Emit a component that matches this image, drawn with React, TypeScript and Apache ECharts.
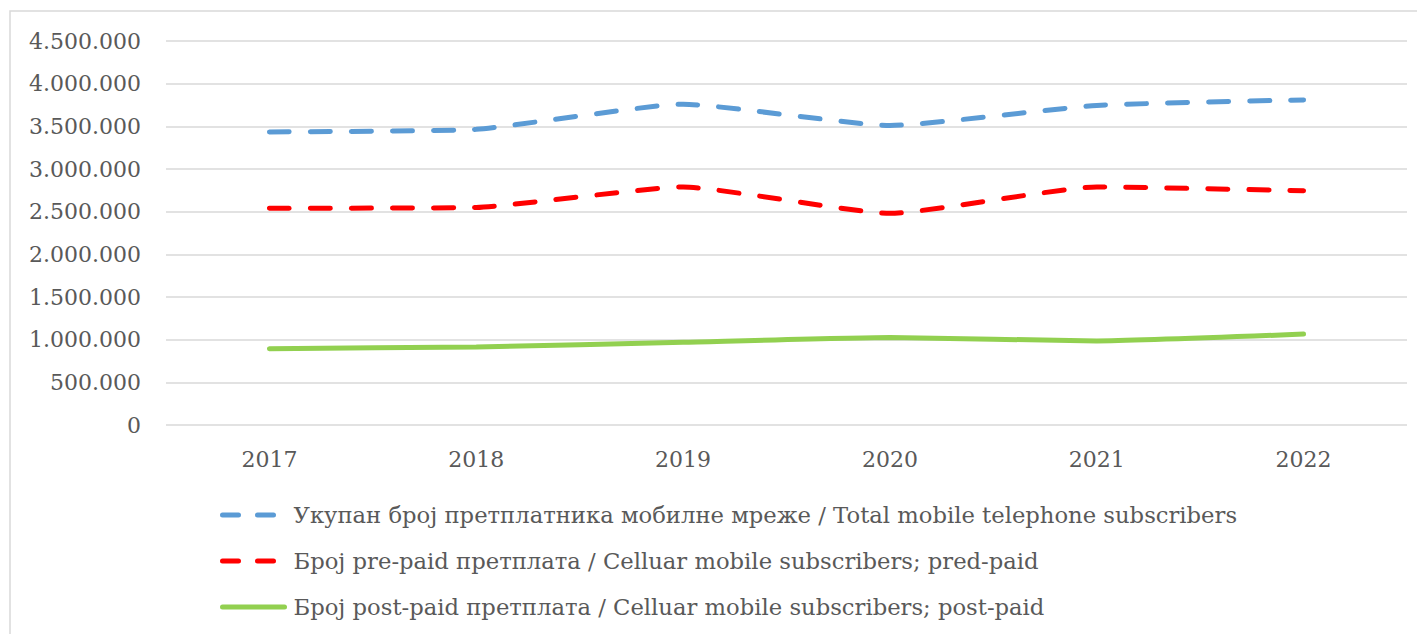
import React, { useEffect, useRef } from "react";
import * as echarts from "echarts";

const categories = ["2017", "2018", "2019", "2020", "2021", "2022"];
const totalSubscribers = [3435000, 3465000, 3760000, 3510000, 3745000, 3810000];
const prePaid = [2540000, 2550000, 2790000, 2480000, 2790000, 2745000];
const postPaid = [895000, 915000, 970000, 1025000, 985000, 1065000];
const seriesNames = [
  "Укупан број претплатника мобилне мреже / Total mobile telephone subscribers",
  "Број pre-paid претплата / Celluar mobile subscribers; pred-paid",
  "Број post-paid претплата / Celluar mobile subscribers; post-paid",
];

const FONT = "DejaVu Serif";
const fmt = (v: number) => String(v).replace(/\B(?=(\d{3})+(?!\d))/g, ".");

export default function App() {
  const ref = useRef<HTMLDivElement>(null);
  useEffect(() => {
    if (!ref.current) return;
    const chart = echarts.init(ref.current, null, { renderer: "svg" });
    const dashed = { type: [20, 21] as any, cap: "round" as any, width: 5 };
    const legendDash = { type: [16, 19] as any, cap: "round" as any, width: 5 };
    chart.setOption({
      animation: false,
      textStyle: { fontFamily: FONT },
      graphic: [
        {
          type: "rect",
          shape: { x: 2, y: 3, width: 1440, height: 700 },
          style: { fill: "none", stroke: "#D9D9D9", lineWidth: 1.5 },
          silent: true,
        },
      ],
      grid: { left: 158, right: 18, top: 33, height: 384, containLabel: false },
      xAxis: {
        type: "category",
        data: categories,
        boundaryGap: true,
        axisLine: { show: false },
        axisTick: { show: false },
        axisLabel: { color: "#595959", fontSize: 22, fontFamily: FONT, margin: 23 },
      },
      yAxis: {
        type: "value",
        min: 0,
        max: 4500000,
        interval: 500000,
        axisLine: { show: false },
        axisTick: { show: false },
        splitLine: { lineStyle: { color: "#D9D9D9", width: 1.5 } },
        axisLabel: {
          color: "#595959",
          fontSize: 22,
          fontFamily: FONT,
          margin: 25,
          formatter: (v: number) => fmt(v),
        },
      },
      legend: {
        orient: "vertical",
        left: 207,
        top: 490,
        itemWidth: 62,
        itemHeight: 14,
        itemGap: 22,
        itemStyle: { opacity: 0 },
        lineStyle: { width: 5, cap: "round" },
        textStyle: { color: "#595959", fontSize: 22.7, fontFamily: FONT, lineHeight: 24, padding: [0, 0, 0, 4] },
        data: [
          { name: seriesNames[0], lineStyle: legendDash },
          { name: seriesNames[1], lineStyle: legendDash },
          { name: seriesNames[2] },
        ],
      },
      series: [
        {
          name: seriesNames[0],
          type: "line",
          data: totalSubscribers,
          smooth: 0.15,
          symbol: "none",
          color: "#5B9BD5",
          lineStyle: { ...dashed, color: "#5B9BD5" },
        },
        {
          name: seriesNames[1],
          type: "line",
          data: prePaid,
          smooth: 0.15,
          symbol: "none",
          color: "#FF0000",
          lineStyle: { ...dashed, color: "#FF0000" },
        },
        {
          name: seriesNames[2],
          type: "line",
          data: postPaid,
          smooth: 0.15,
          symbol: "none",
          color: "#92D050",
          lineStyle: { width: 5, cap: "round", color: "#92D050" },
        },
      ],
    });
    return () => chart.dispose();
  }, []);
  return <div ref={ref} style={{ width: 1417, height: 626 }} />;
}
